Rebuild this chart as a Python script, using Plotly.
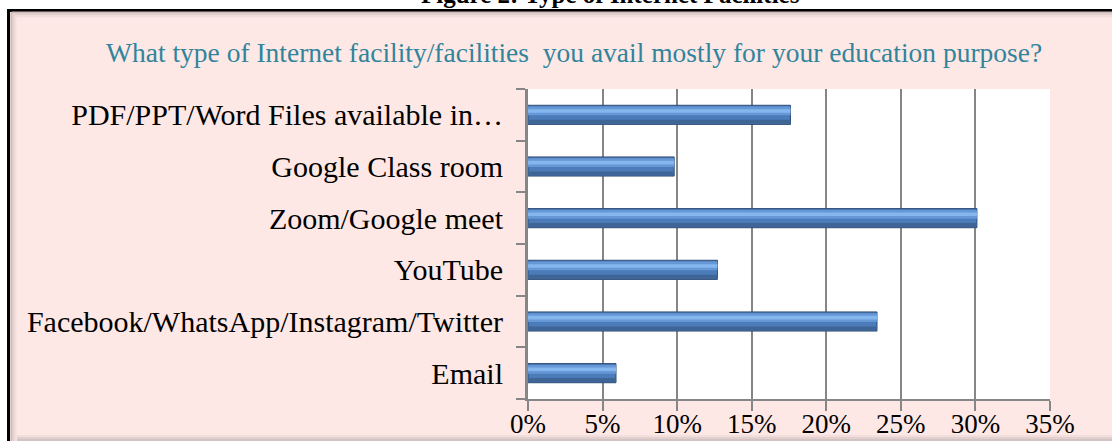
import plotly.graph_objects as go

categories = [
    "Email",
    "Facebook/WhatsApp/Instagram/Twitter",
    "YouTube",
    "Zoom/Google meet",
    "Google Class room",
    "PDF/PPT/Word Files available in…",
]
shares = [0.059, 0.234, 0.127, 0.301, 0.098, 0.176]
x_ticks = [0, 0.05, 0.10, 0.15, 0.20, 0.25, 0.30, 0.35]
chart_title = "What type of Internet facility/facilities  you avail mostly for your education purpose?"
figure_caption = "Figure 2: Type of Internet Facilities"

W, H = 1112, 441
L, R, T, B = 528, 62, 89, 42
PW, PH = W - L - R, H - T - B


def px(xp):
    return (xp - L) / PW


def py(yp):
    return (H - B - yp) / PH


SERIF = "Liberation Serif, Times New Roman, serif"
GRID = "#868686"

fig = go.Figure()

# base bar
fig.add_trace(go.Bar(
    x=shares, y=categories, orientation="h",
    width=0.37, offset=-0.185,
    marker=dict(color="#4B7BB8", line=dict(color="#2E4C74", width=1)),
    hoverinfo="x+y", showlegend=False,
))
# darker lower band
fig.add_trace(go.Bar(
    x=shares, y=categories, orientation="h",
    width=0.08, offset=-0.175,
    marker=dict(color="#3F6596", line=dict(width=0)),
    hoverinfo="skip", showlegend=False,
))
# light upper band
fig.add_trace(go.Bar(
    x=shares, y=categories, orientation="h",
    width=0.17, offset=-0.01,
    marker=dict(color="#6697D6", line=dict(width=0)),
    hoverinfo="skip", showlegend=False,
))
# highlight stripe
fig.add_trace(go.Bar(
    x=shares, y=categories, orientation="h",
    width=0.07, offset=0.04,
    marker=dict(color="#86B6EE", line=dict(width=0)),
    hoverinfo="skip", showlegend=False,
))

shapes = []
# pink chart area with black frame
shapes.append(dict(type="rect", xref="paper", yref="paper", layer="below",
                   x0=px(8.5), x1=px(1130), y0=py(460), y1=py(10.5),
                   fillcolor="#FDE8E6", line=dict(color="black", width=3)))
# bevel lines
for off, col in [(11.5, "#CDB9B8"), (13.5, "#E2CFCE"), (15.5, "#F2DEDC")]:
    shapes.append(dict(type="line", xref="paper", yref="paper", layer="below",
                       x0=px(off), x1=px(off), y0=py(441), y1=py(off + 1),
                       line=dict(color=col, width=2)))
    shapes.append(dict(type="line", xref="paper", yref="paper", layer="below",
                       x0=px(off), x1=px(1112), y0=py(off + 1), y1=py(off + 1),
                       line=dict(color=col, width=2)))
for yy, col in [(436, "#F2DEDC"), (438, "#E2D0CF"), (440, "#D3C3C2")]:
    shapes.append(dict(type="line", xref="paper", yref="paper", layer="below",
                       x0=px(17), x1=px(1112), y0=py(yy), y1=py(yy),
                       line=dict(color=col, width=2)))
# white plot area
shapes.append(dict(type="rect", xref="x domain", yref="y domain", layer="below",
                   x0=0, x1=1, y0=0, y1=1, fillcolor="white", line=dict(width=0)))

fig.update_layout(
    width=W, height=H,
    margin=dict(l=L, r=R, t=T, b=B, pad=0, autoexpand=False),
    paper_bgcolor="white",
    plot_bgcolor="white",
    barmode="overlay",
    shapes=shapes,
    font=dict(family=SERIF, color="black"),
    annotations=[
        dict(text=chart_title, xref="paper", yref="paper",
             x=px(574), y=py(53), xanchor="center", yanchor="middle",
             showarrow=False, font=dict(family=SERIF, size=27.5, color="#31849B")),
        dict(text="<b>" + figure_caption + "</b>", xref="paper", yref="paper",
             x=px(610), y=py(10), xanchor="center", yanchor="bottom",
             showarrow=False, font=dict(family=SERIF, size=25, color="black")),
    ],
)

fig.update_xaxes(
    range=[0, 0.35], tickvals=x_ticks, tickformat=".0%",
    showgrid=True, gridcolor=GRID, gridwidth=2,
    showline=True, linecolor=GRID, linewidth=2,
    ticks="outside", ticklen=10, tickwidth=2, tickcolor=GRID,
    tickfont=dict(family=SERIF, size=27, color="black"),
    ticklabelstandoff=-10,
    zeroline=False, fixedrange=True, automargin=False,
)
fig.update_yaxes(
    categoryorder="array", categoryarray=categories,
    showgrid=False,
    showline=True, linecolor=GRID, linewidth=3,
    ticks="outside", ticklen=9, tickwidth=2, tickcolor=GRID,
    tickson="boundaries",
    tickfont=dict(family=SERIF, size=30, color="black"),
    ticklabelstandoff=16,
    fixedrange=True, automargin=False,
)

fig.write_html("out.html", config={"displayModeBar": False},
               post_script="document.body.style.margin='0';")
